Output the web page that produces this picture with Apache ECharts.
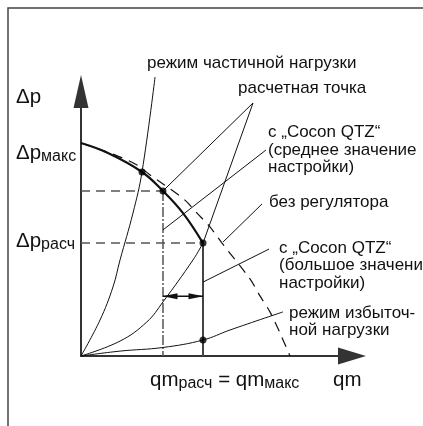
<!DOCTYPE html>
<html><head><meta charset="utf-8">
<script src="https://cdn.jsdelivr.net/npm/echarts@6/dist/echarts.min.js"></script>
<style>html,body{margin:0;padding:0;background:#fff}#c{width:423px;height:426px}</style>
</head><body><div id="c"></div>
<script>
// Normalised units: qm / qm_max (x), Δp / Δp_max (y)
const partialLoadCurve = [[0,0],[0.156,0.169],[0.262,0.324],[0.32,0.451],[0.426,0.671],[0.5,0.864],[0.607,1.31]];
const designCurve = [[0,0],[0.32,0.07],[0.54,0.16],[0.672,0.254],[0.918,0.451],[1.0,0.53]];
const overloadCurve = [[0,0],[0.32,0.023],[0.672,0.04],[1.0,0.075],[1.221,0.122],[1.656,0.207]];
const regulatedCurve = [[0,1.0],[0.221,0.953],[0.5,0.864],[0.672,0.775],[0.836,0.671],[1.0,0.53]];
const noRegulatorCurve = [[0,1.0],[0.262,0.948],[0.459,0.897],[0.566,0.85],[0.672,0.808],[0.852,0.732],[0.951,0.671],[1.057,0.606],[1.156,0.53],[1.385,0.362],[1.467,0.282],[1.549,0.207],[1.631,0.108],[1.713,0]];
const operatingPoints = [[0.5,0.864],[0.672,0.775],[1.0,0.53],[1.0,0.075]];
const dpLevel = [[0,0.775],[0.672,0.775]];
const dpDesignLevel = [[0,0.53],[1.0,0.53]];
const qmLevel = [[0.672,0.775],[0.672,0]];
const qmDesignLevel = [[1.0,0.53],[1.0,0]];
const shiftArrow = [[0.672,0.28],[1.0,0.28]];
const leaderDesignPoint = [[0.672,0.775],[1.41,1.188],[1.0,0.53]];
const leaderMedium = [[1.516,0.967],[0.672,0.592]];
const leaderNoRegulator = [[1.484,0.714],[1.164,0.535]];
const leaderHigh = [[1.541,0.502],[1.0,0.347]];

const FONT = '"Liberation Sans", Arial, sans-serif';
const X_MAX = 2.2213, Y_MAX = 1.2418;

const chart = echarts.init(document.getElementById('c'), null, {renderer:'canvas'});
const thin = {color:'#111', width:1};
function lineSeries(data, style, extra) {
  return Object.assign({type:'line', data: data, symbol:'none', showSymbol:false, clip:false, silent:true,
    lineStyle: style, animation:false}, extra || {});
}
const txt = (x, y, text, size, rich, lh) => ({
  type:'text', x:x, y:y, silent:true,
  style:{text:text, fill:'#111', font: size + 'px ' + FONT, verticalAlign:'middle', lineHeight: lh || size, rich: rich || undefined}
});
const subRich = {
  m:{fontSize:20.5, fontFamily:FONT, fill:'#111'},
  s:{fontSize:16, fontFamily:FONT, fill:'#111', padding:[8,0,0,0]}
};

chart.setOption({
  animation:false,
  grid:{left:81, right:71, top:91.5, bottom:70, containLabel:false},
  xAxis:{type:'value', min:0, max:X_MAX,
    axisLine:{show:true, onZero:false, symbol:['none','triangle'], symbolSize:[17,28], lineStyle:{color:'#333', width:2}},
    axisTick:{show:false}, axisLabel:{show:false}, splitLine:{show:false}},
  yAxis:{type:'value', min:0, max:Y_MAX,
    axisLine:{show:true, onZero:false, symbol:['none','triangle'], symbolSize:[15,33], lineStyle:{color:'#333', width:2}},
    axisTick:{show:false}, axisLabel:{show:false}, splitLine:{show:false}},
  series:[
    lineSeries(dpLevel, {color:'#555', width:1.5, type:[9,6]}),
    lineSeries(dpDesignLevel, {color:'#555', width:1.5, type:[9,6]}),
    lineSeries(qmLevel, {color:'#555', width:1.5, type:[10,2,2,2]}),
    lineSeries(qmDesignLevel, {color:'#444', width:2}),
    lineSeries(noRegulatorCurve, {color:'#111', width:1.2, type:[10,7]}, {smooth:0.3}),
    lineSeries(partialLoadCurve, thin, {smooth:0.4}),
    lineSeries(designCurve, thin, {smooth:0.4}),
    lineSeries(overloadCurve, thin, {smooth:0.4}),
    lineSeries(regulatedCurve, {color:'#111', width:2.2}, {smooth:0.4}),
    lineSeries(leaderDesignPoint, thin),
    lineSeries(leaderMedium, thin),
    lineSeries(leaderNoRegulator, thin),
    lineSeries(leaderHigh, thin),
    {type:'line', silent:true, clip:false, animation:false, showSymbol:true, symbol:'triangle', symbolSize:[6,15],
      itemStyle:{color:'#111'}, lineStyle:{color:'#111', width:1.5},
      data:[{value:shiftArrow[0], symbolRotate:90, symbolOffset:[7,0]},{value:shiftArrow[1], symbolRotate:-90, symbolOffset:[-7,0]}]},
    {type:'scatter', data:operatingPoints, symbolSize:7, itemStyle:{color:'#000'}, silent:true, clip:false, z:5}
  ],
  graphic:[
    {type:'rect', shape:{x:8, y:8, width:600, height:600}, style:{fill:'none', stroke:'#444', lineWidth:1.5}, silent:true},
    txt(16, 97, '{m|Δp}', 20.5, subRich),
    txt(16, 153, '{m|Δp}{s|макс}', 20.5, subRich),
    txt(16, 241, '{m|Δp}{s|расч}', 20.5, subRich),
    txt(150, 380, '{m|qm}{s|расч}{m| = qm}{s|макс}', 20.5, subRich),
    txt(333, 380, '{m|qm}', 20.5, subRich),
    txt(147, 63, 'режим частичной нагрузки', 17),
    txt(238, 88, 'расчетная точка', 17),
    txt(268, 150, 'с „Cocon QTZ“\n(среднее значение\nнастройки)', 17, null, 17.5),
    txt(269, 202, 'без регулятора', 17),
    txt(279, 265.5, 'с „Cocon QTZ“\n(большое значение\nнастройки)', 17, null, 17.5),
    txt(289, 321.5, 'режим избыточ-\nной нагрузки', 17, null, 17)
  ]
});
</script></body></html>
